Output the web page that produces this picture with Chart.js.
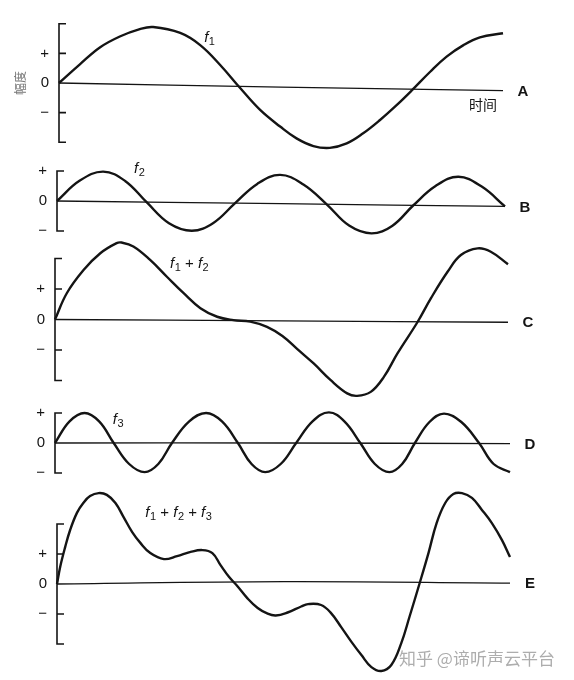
<!DOCTYPE html>
<html>
<head>
<meta charset="utf-8">
<script src="https://cdn.jsdelivr.net/npm/chart.js@4.4.1/dist/chart.umd.min.js"></script>
<style>
  html, body { margin: 0; padding: 0; background: #fff; }
  #page { position: relative; width: 574px; height: 680px; overflow: hidden; background: #fff; }
  #page canvas { position: absolute; left: 0; }
  #mark { position: absolute; left: 399px; top: 645px; font: 17px "Noto Sans CJK SC"; color: #adadad; white-space: nowrap; }
</style>
</head>
<body>
<div id="page">
  <canvas id="pA" width="574" height="148" style="top:9px"></canvas>
  <canvas id="pB" width="574" height="78" style="top:162px"></canvas>
  <canvas id="pC" width="574" height="171" style="top:234px"></canvas>
  <canvas id="pD" width="574" height="78" style="top:404px"></canvas>
  <canvas id="pE" width="574" height="198" style="top:485px"></canvas>
  <div id="mark">知乎 @谛听声云平台</div>
</div>
<script>
// time runs 0..100 across each panel, amplitude 1 = one "+" step
const tA = [0, 4.7, 9.2, 13.7, 18.2, 21.2, 27.3, 31.8, 36.3, 40.8, 45.3, 49.8, 53.5, 57.3, 61, 64.8, 68.5, 72.3, 76.1, 79.4, 83.6, 87.3, 91.1, 94.8, 100];
const f1 = [0, 0.63, 1.2, 1.57, 1.82, 1.89, 1.69, 1.28, 0.61, -0.17, -0.91, -1.47, -1.87, -2.13, -2.19, -2.04, -1.7, -1.25, -0.74, -0.26, 0.38, 0.89, 1.28, 1.54, 1.68];

const tB = [0, 5.1, 10.3, 15.2, 20, 25, 30.1, 34.9, 39.7, 44.7, 49.8, 55, 60.2, 65.2, 70.2, 74.8, 79.5, 84.5, 89.6, 94.8, 100];
const f2 = [0, 0.68, 0.98, 0.67, -0.04, -0.74, -0.99, -0.73, -0.08, 0.57, 0.87, 0.55, -0.11, -0.82, -1.08, -0.83, -0.15, 0.5, 0.81, 0.48, -0.18];

const tC = [0, 2.6, 6.3, 10, 13.6, 14.7, 17.3, 21, 24.7, 28.4, 32.1, 35.8, 39.4, 43.1, 46.8, 50.2, 53.5, 57.1, 60.8, 64.5, 66.7, 69.7, 72.6, 75.6, 80, 83, 86.7, 89.6, 93.3, 96.2, 100];
const f12 = [0, 0.86, 1.62, 2.17, 2.5, 2.52, 2.39, 1.95, 1.4, 0.86, 0.37, 0.09, -0.02, -0.07, -0.24, -0.54, -0.97, -1.44, -1.98, -2.42, -2.5, -2.37, -1.88, -1.11, -0.09, 0.7, 1.57, 2.11, 2.33, 2.22, 1.81];

const tD = [0, 3.2, 6.5, 9.7, 12.9, 16.3, 19.7, 22.7, 25.7, 29.5, 33.2, 36.7, 40.2, 43.2, 46.2, 49.6, 53, 56.6, 60.2, 63.6, 67.1, 70.3, 73.5, 76.3, 79.1, 82.3, 85.5, 89.3, 93.2, 96.4, 100];
const f3 = [0, 0.72, 1.0, 0.72, 0, -0.7, -0.97, -0.7, 0, 0.72, 1.0, 0.72, 0, -0.7, -0.97, -0.7, 0, 0.72, 1.02, 0.72, 0, -0.7, -0.97, -0.7, 0, 0.7, 0.98, 0.7, 0, -0.7, -0.97];

const tE = [0, 0.7, 1.8, 2.9, 4.4, 5.8, 7.3, 9.2, 11, 12.9, 14.7, 16.6, 18.4, 20.6, 23.6, 26.5, 29.5, 32.1, 34.3, 36.1, 38, 39.7, 42, 44.3, 46.5, 48.3, 50.9, 53.9, 55.4, 58.3, 60.5, 62.7, 65, 67.2, 69.4, 71.6, 73.8, 76, 77.8, 80.1, 82, 83.8, 85.7, 87.5, 89.4, 91.6, 93.8, 96, 98.2, 100];
const f123 = [0, 0.57, 1.23, 1.8, 2.37, 2.7, 2.93, 3.03, 2.97, 2.7, 2.23, 1.73, 1.37, 1.03, 0.83, 0.93, 1.07, 1.13, 1.03, 0.63, 0.23, -0.05, -0.47, -0.8, -0.99, -1.05, -0.95, -0.75, -0.67, -0.7, -0.97, -1.43, -1.93, -2.37, -2.77, -2.9, -2.7, -1.97, -1.1, 0.05, 1.03, 2.03, 2.7, 3.0, 3.03, 2.87, 2.47, 2.03, 1.47, 0.9];

// the zero lines (slightly skewed in the scan)
const baseT = [0, 50, 100];
const baseA = [0, -0.14, -0.26];
const baseB = [0, -0.09, -0.18];
const baseC = [0, -0.045, -0.09];
const baseD = [0, 0, -0.02];
const baseE = [0, 0.08, 0.03];

const tickValues = [-1, 0, 1];
const tickText = ['−', '0', '+'];
const letters = ['A', 'B', 'C', 'D', 'E'];
const formulas = [['1'], ['2'], ['1', '2'], ['3'], ['1', '2', '3']];

const panels = [
  { id: 'pA', t: tA, v: f1, base: baseA, left: 59, right: 503, ymax: 2.5, bracket: 2, marks: [1, -1], label: [32.7, 1.39], sub: '时间' },
  { id: 'pB', t: tB, v: f2, base: baseB, left: 57, right: 505, ymax: 1.3, bracket: 1, marks: [], label: [17.2, 0.93] },
  { id: 'pC', t: tC, v: f12, base: baseC, left: 55, right: 508, ymax: 2.8, bracket: 2.0, marks: [1, -1], label: [25.4, 1.7] },
  { id: 'pD', t: tD, v: f3, base: baseD, left: 55, right: 510, ymax: 1.3, bracket: 1, marks: [], label: [12.7, 0.63] },
  { id: 'pE', t: tE, v: f123, base: baseE, left: 57, right: 510, ymax: 3.3, bracket: 2, marks: [1, -1], label: [19.5, 2.23] }
];

const INK = '#141414';

function drawFormula(ctx, x, y, subs) {
  let cx = x;
  subs.forEach((n, i) => {
    if (i) {
      ctx.font = '15px "Liberation Sans"';
      ctx.fillText(' + ', cx, y);
      cx += ctx.measureText(' + ').width;
    }
    ctx.font = 'italic 15px "Liberation Sans"';
    ctx.fillText('f', cx, y);
    cx += ctx.measureText('f').width + 0.5;
    ctx.font = '11px "Liberation Sans"';
    ctx.fillText(n, cx, y + 3);
    cx += ctx.measureText(n).width;
  });
}

const decor = {
  id: 'decor',
  afterDatasetsDraw(chart, args, opts) {
    const { ctx, chartArea } = chart;
    const x = chart.scales.x, y = chart.scales.y;
    const x0 = x.getPixelForValue(0);
    ctx.save();
    // bracket on the amplitude axis
    ctx.strokeStyle = INK;
    ctx.lineWidth = 1.6;
    ctx.beginPath();
    const yt = y.getPixelForValue(opts.bracket);
    const yb = y.getPixelForValue(-opts.bracket);
    ctx.moveTo(x0 + 7, yt);
    ctx.lineTo(x0, yt);
    ctx.lineTo(x0, yb);
    ctx.lineTo(x0 + 7, yb);
    opts.marks.forEach(m => {
      const ym = y.getPixelForValue(m);
      ctx.moveTo(x0, ym);
      ctx.lineTo(x0 + 7, ym);
    });
    ctx.stroke();

    ctx.fillStyle = INK;
    ctx.textAlign = 'left';
    ctx.textBaseline = 'alphabetic';
    drawFormula(ctx, x.getPixelForValue(opts.label[0]), y.getPixelForValue(opts.label[1]), opts.formula);

    const yEnd = y.getPixelForValue(opts.baseEnd);
    ctx.font = 'bold 15px "Liberation Sans"';
    ctx.textAlign = 'center';
    ctx.textBaseline = 'middle';
    ctx.fillText(opts.letter, chartArea.right + 20, yEnd + 1);

    if (opts.sub) {
      ctx.font = '14px "Noto Sans CJK SC"';
      ctx.textAlign = 'right';
      ctx.fillText(opts.sub, chartArea.right - 6, yEnd + 14);
    }
    ctx.restore();
  }
};

panels.forEach((p, k) => {
  new Chart(document.getElementById(p.id), {
    type: 'line',
    data: {
      datasets: [
        {
          data: p.t.map((t, i) => ({ x: t, y: p.v[i] })),
          borderColor: INK,
          borderWidth: 2.4,
          pointRadius: 0,
          tension: 0.4,
          fill: false,
          clip: false
        },
        {
          data: baseT.map((t, i) => ({ x: t, y: p.base[i] })),
          borderColor: INK,
          borderWidth: 1.3,
          pointRadius: 0,
          tension: 0.4,
          fill: false,
          clip: false
        }
      ]
    },
    options: {
      responsive: false,
      animation: false,
      events: [],
      layout: { padding: { left: 0, right: 574 - p.right, top: 0, bottom: 0 } },
      plugins: {
        legend: { display: false },
        tooltip: { enabled: false },
        decor: {
          bracket: p.bracket,
          marks: p.marks,
          label: p.label,
          formula: formulas[k],
          letter: letters[k],
          baseEnd: p.base[p.base.length - 1],
          sub: p.sub
        }
      },
      scales: {
        x: { type: 'linear', min: 0, max: 100, display: false },
        y: {
          type: 'linear',
          min: -p.ymax,
          max: p.ymax,
          grid: { display: false, drawTicks: false },
          border: { display: false },
          afterBuildTicks: (s) => { s.ticks = tickValues.map(v => ({ value: v })); },
          afterFit: (s) => {
            s.width = p.left;
            // labels sit well inside the range, so no extra room is needed
            s.paddingTop = 0;
            s.paddingBottom = 0;
          },
          ticks: {
            autoSkip: false,
            padding: 10,
            color: INK,
            font: { family: 'Liberation Sans', size: 15 },
            callback: (v, i) => tickText[i]
          },
          title: {
            display: k === 0,
            text: '幅度',
            color: '#777',
            font: { family: 'Noto Sans CJK SC', size: 12 },
            padding: { top: 13, bottom: 0 }
          }
        }
      }
    },
    plugins: [decor]
  });
});
</script>
</body>
</html>
